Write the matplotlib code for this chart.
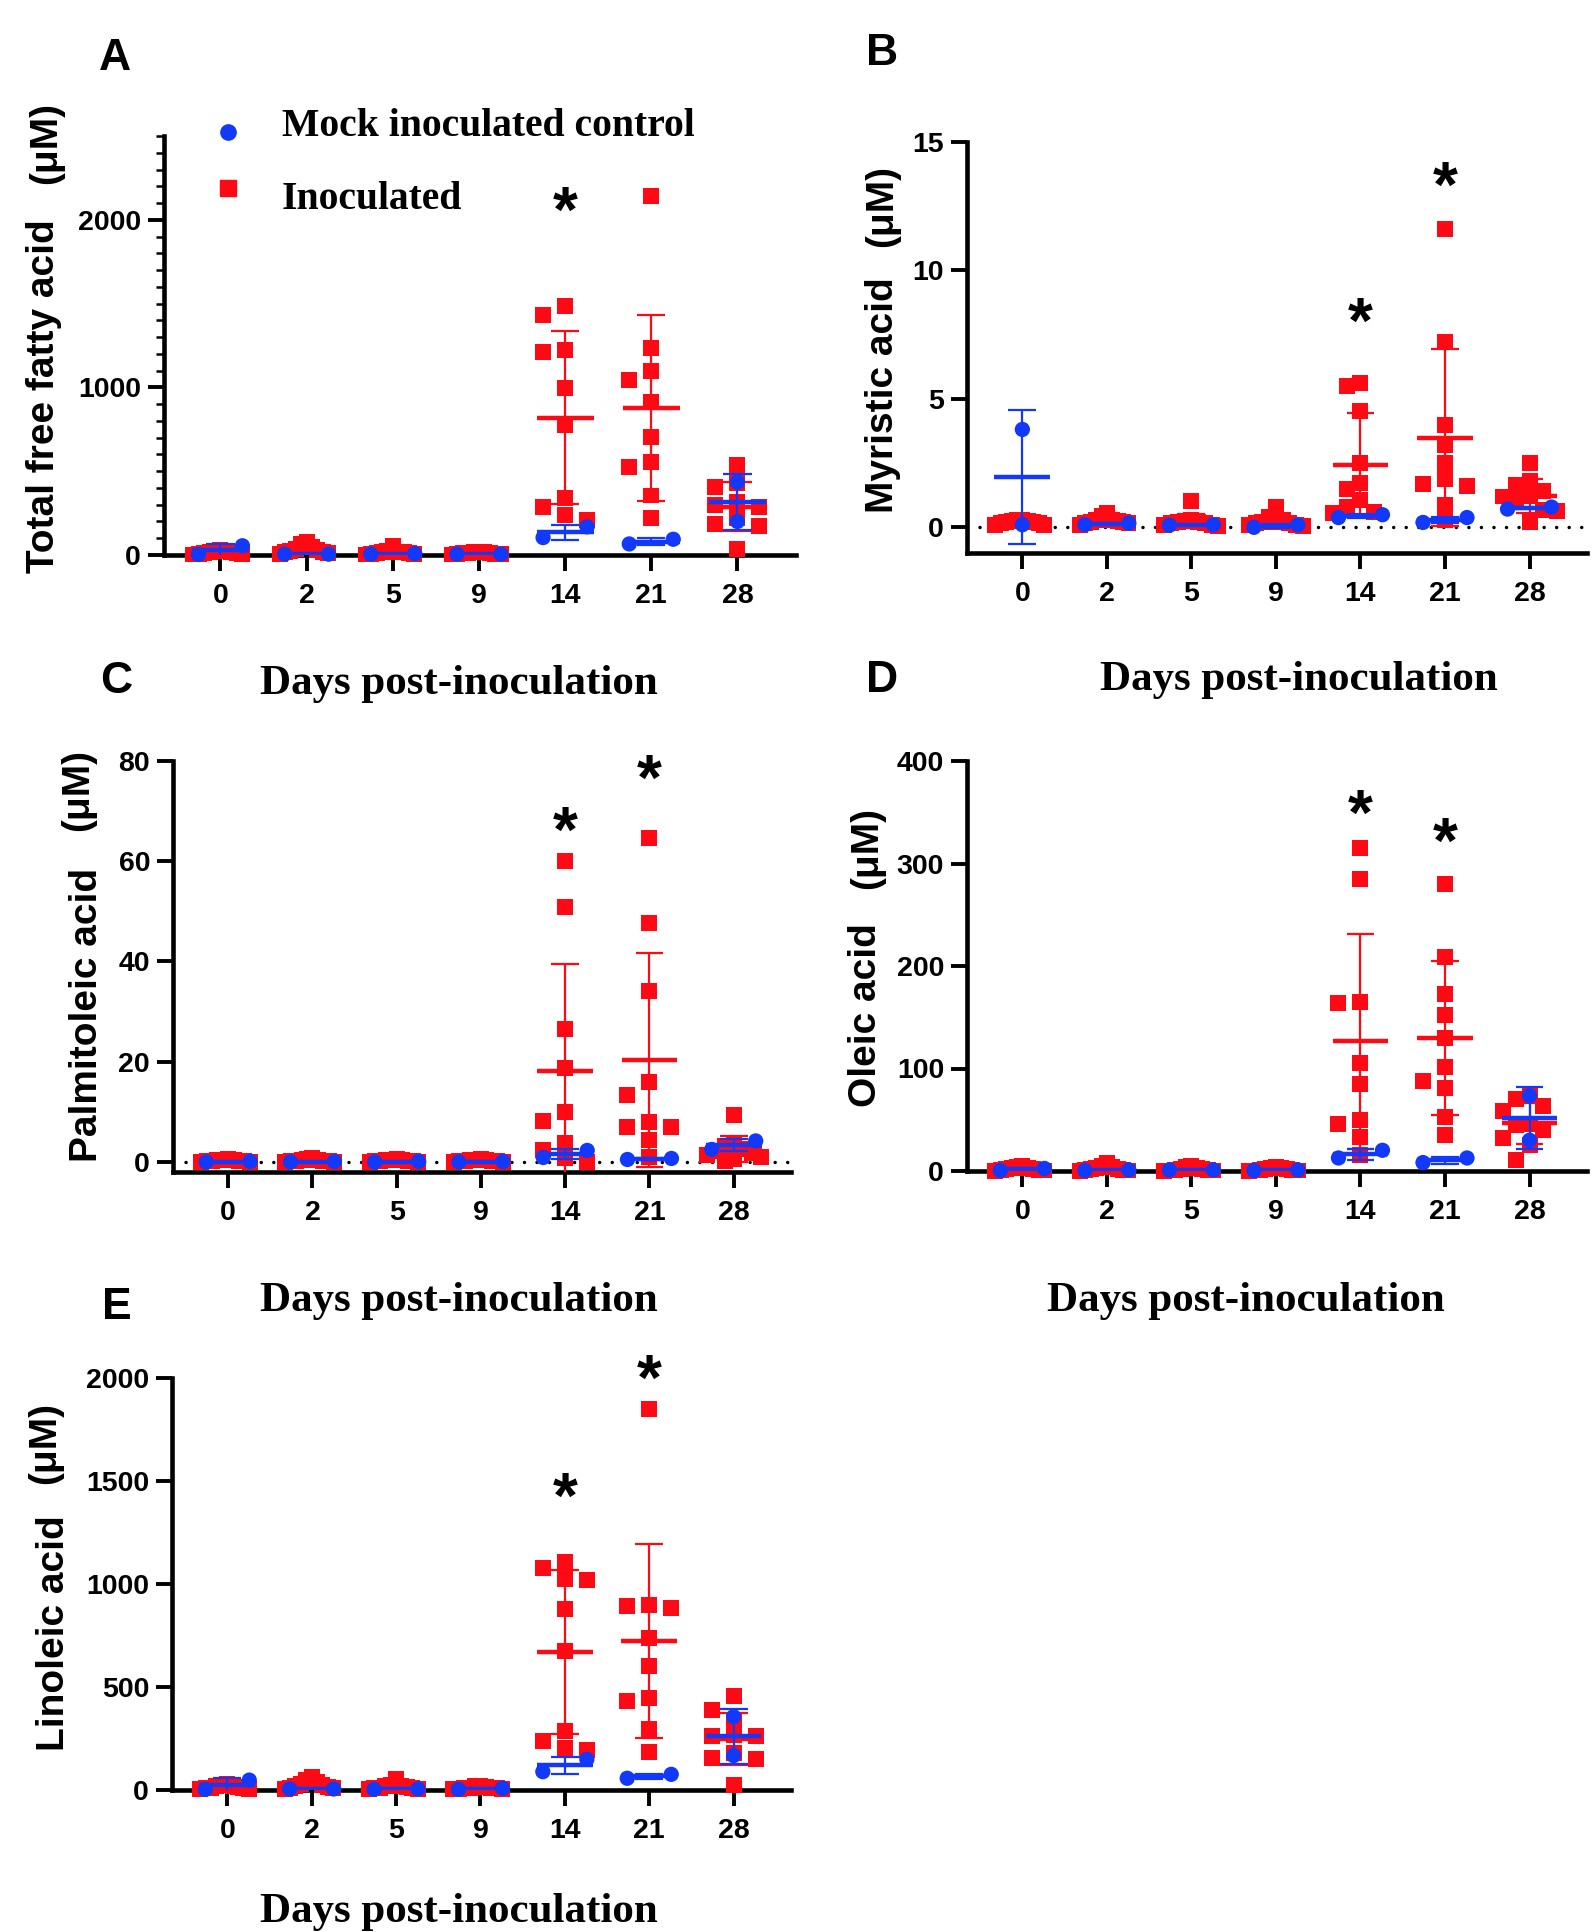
import numpy as np
import matplotlib
matplotlib.use("Agg")
import matplotlib.pyplot as plt
from matplotlib.lines import Line2D
from matplotlib.ticker import MultipleLocator

W, H, DPI = 1594, 1932, 100
RED = "#FF0A14"
BLUE = "#1238FA"
SANS = ["Liberation Sans", "DejaVu Sans"]
SERIF = ["Liberation Serif", "DejaVu Serif"]

plt.rcParams["font.family"] = SANS
plt.rcParams["font.weight"] = "bold"

DAYS = ["0", "2", "5", "9", "14", "21", "28"]

# values in uM; mock-inoculated n=2, inoculated n=10 per day
TFFA_MOCK = [[55, 3], [5, 5], [8, 5], [5, 5], [104, 168], [66, 94], [435, 200]]
TFFA_INOC = [
    [30, 22, 15, 10, 5, 25, 18, 8, 12, 3],
    [80, 68, 45, 35, 25, 15, 10, 30, 20, 5],
    [55, 25, 15, 10, 8, 5, 12, 18, 3, 20],
    [20, 15, 10, 8, 5, 12, 18, 3, 6, 10],
    [1483, 1433, 1222, 1210, 996, 778, 341, 287, 238, 210],
    [2142, 1234, 1098, 1044, 914, 703, 523, 555, 355, 220],
    [535, 403, 431, 319, 289, 299, 220, 186, 174, 36],
]
TFFA_STARS = {"14": 2114}

MYR_MOCK = [[3.81, 0.10], [0.16, 0.10], [0.10, 0.08], [0.0, 0.10], [0.49, 0.38], [0.19, 0.38], [0.71, 0.79]]
MYR_INOC = [
    [0.30, 0.25, 0.20, 0.20, 0.15, 0.10, 0.30, 0.25, 0.15, 0.10],
    [0.57, 0.45, 0.30, 0.25, 0.20, 0.15, 0.10, 0.30, 0.20, 0.15],
    [1.01, 0.30, 0.25, 0.20, 0.15, 0.10, 0.05, 0.20, 0.15, 0.10],
    [0.81, 0.40, 0.30, 0.20, 0.15, 0.10, 0.05, 0.20, 0.10, 0.15],
    [5.63, 5.50, 4.52, 2.51, 1.73, 1.49, 1.07, 0.81, 0.60, 0.55],
    [11.62, 7.22, 4.00, 3.22, 2.51, 1.70, 1.89, 1.59, 0.88, 0.29],
    [2.51, 1.79, 1.66, 1.20, 1.40, 1.20, 1.07, 0.68, 0.62, 0.19],
]
MYR_STARS = {"14": 8.38, "21": 13.7}

PALM_MOCK = [[0.1, 0.0], [0.1, 0.0], [0.1, 0.0], [0.1, 0.0], [0.9, 2.3], [0.5, 0.7], [4.2, 2.5]]
PALM_INOC = [
    [0.5, 0.4, 0.3, 0.3, 0.2, 0.2, 0.1, 0.1, 0.05, 0.0],
    [0.8, 0.5, 0.4, 0.3, 0.2, 0.2, 0.1, 0.1, 0.05, 0.0],
    [0.5, 0.4, 0.3, 0.3, 0.2, 0.2, 0.1, 0.1, 0.05, 0.0],
    [0.6, 0.4, 0.3, 0.3, 0.2, 0.2, 0.1, 0.1, 0.05, 0.0],
    [60.0, 50.9, 26.5, 18.8, 10.0, 8.1, 3.7, 2.3, 0.7, 0.0],
    [64.7, 47.6, 34.1, 16.0, 13.3, 7.0, 7.0, 7.9, 4.3, 1.0],
    [9.3, 3.8, 3.2, 2.6, 2.2, 1.8, 1.4, 1.0, 0.6, 0.2],
]
PALM_STARS = {"14": 68.2, "21": 78.4}

OLE_MOCK = [[2.5, 0.5], [1.0, 0.5], [1.0, 1.0], [1.0, 0.5], [12.7, 20.2], [8.2, 12.7], [73.3, 30.0]]
OLE_INOC = [
    [5, 4, 3, 3, 2, 2, 1, 1, 0.5, 0.2],
    [8, 5, 4, 3, 2, 2, 1, 1, 0.5, 0.2],
    [5, 4, 3, 2, 2, 1, 1, 0.5, 0.5, 0.2],
    [4, 3, 3, 2, 2, 1, 1, 0.5, 0.5, 0.2],
    [314.8, 285.2, 164.1, 165.0, 105.5, 84.7, 50.2, 46.3, 33.2, 15.3],
    [280, 209, 172.6, 152, 129.3, 101, 87.9, 81.4, 52.7, 35.5],
    [70, 73, 63, 59, 44.6, 46.3, 39.7, 32.6, 25, 10.4],
]
OLE_STARS = {"14": 358.8, "21": 331}

LIN_MOCK = [[48, 3], [5, 5], [5, 3], [8, 3], [89, 149], [57, 76], [356, 167]]
LIN_INOC = [
    [30, 25, 20, 15, 10, 5, 20, 12, 8, 3],
    [62, 48, 40, 30, 25, 15, 10, 20, 8, 5],
    [55, 25, 15, 10, 8, 5, 12, 18, 3, 20],
    [20, 15, 10, 8, 5, 12, 18, 3, 6, 10],
    [1109, 1077, 1020, 1024, 878, 677, 287, 240, 204, 194],
    [1850, 883, 896, 894, 740, 604, 446, 432, 296, 183],
    [455, 390, 340, 262, 265, 260, 150, 178, 155, 25],
]
LIN_STARS = {"14": 1474, "21": 2046}

fig = plt.figure(figsize=(W / DPI, H / DPI), dpi=DPI)


def fx(x):
    return x / W


def fy(y):
    return 1 - y / H


def px_axes(l, t, r, b):
    return fig.add_axes([fx(l), fy(b), (r - l) / W, (b - t) / H])


def swarm(ax, vals, step=22, hit=15, limit=27):
    # column-scatter offsets: spread points that would overlap vertically
    tr = ax.transData
    ys = tr.transform(np.column_stack([np.zeros(len(vals)), vals]))[:, 1]
    cat_px = tr.transform((1, 0))[0] - tr.transform((0, 0))[0]
    slots = np.zeros(len(vals))
    placed = []
    for i in np.argsort(-ys, kind="stable"):
        for s in (0, -1, 1, -2, 2, -3, 3, -4, 4, -5, 5, -6, 6):
            if all(ps != s or abs(py - ys[i]) >= hit for ps, py in placed):
                break
        slots[i] = s
        placed.append((s, ys[i]))
    if len(vals) == 2 and slots.min() < 0:
        slots = np.where(slots < 0, -1, 1)   # a touching pair sits either side
    off = slots * step
    m = np.abs(off).max()
    if m > limit:
        off = off * limit / m
    return off / cat_px


def group(ax, i, vals, color, marker, ms, z):
    vals = np.asarray(vals, float)
    dx = swarm(ax, vals)
    ax.scatter(i + dx, vals, s=ms ** 2, marker=marker, color=color, edgecolors="none",
               zorder=z, clip_on=False)
    m, sd = vals.mean(), vals.std(ddof=1)
    ax.hlines(m, i - 0.33, i + 0.33, color=color, lw=3.2, zorder=z + 0.5)
    ax.vlines(i, m - sd, m + sd, color=color, lw=1.6, zorder=z + 0.5)
    ax.hlines([m - sd, m + sd], i - 0.165, i + 0.165, color=color, lw=1.6, zorder=z + 0.5)


PANELS = [
    dict(letter="A", box=(164, 136, 796, 555), mock=TFFA_MOCK, inoc=TFFA_INOC, stars=TFFA_STARS,
         ylim=(0, 2500), yticks=[0, 1000, 2000], minor=100, zero=False,
         ylabel="Total free fatty acid", lab_xy=(54, 396), unit_xy=(56, 143),
         xlab_xy=(459, 694), let_xy=(115, 70)),
    dict(letter="B", box=(967, 142, 1587, 553), mock=MYR_MOCK, inoc=MYR_INOC, stars=MYR_STARS,
         ylim=(-1, 15), yticks=[0, 5, 10, 15], minor=None, zero=True,
         ylabel="Myristic acid", lab_xy=(893, 395), unit_xy=(892, 206),
         xlab_xy=(1299, 690), let_xy=(882, 65)),
    dict(letter="C", box=(173, 761, 791, 1172), mock=PALM_MOCK, inoc=PALM_INOC, stars=PALM_STARS,
         ylim=(-2, 80), yticks=[0, 20, 40, 60, 80], minor=None, zero=True,
         ylabel="Palmitoleic acid", lab_xy=(97, 1015), unit_xy=(88, 790),
         xlab_xy=(459, 1311), let_xy=(116, 693)),
    dict(letter="D", box=(967, 761, 1587, 1171), mock=OLE_MOCK, inoc=OLE_INOC, stars=OLE_STARS,
         ylim=(0, 400), yticks=[0, 100, 200, 300, 400], minor=None, zero=False,
         ylabel="Oleic acid", lab_xy=(876, 1015), unit_xy=(877, 848),
         xlab_xy=(1246, 1311), let_xy=(882, 692)),
    dict(letter="E", box=(172, 1378, 791, 1790), mock=LIN_MOCK, inoc=LIN_INOC, stars=LIN_STARS,
         ylim=(0, 2000), yticks=[0, 500, 1000, 1500, 2000], minor=None, zero=False,
         ylabel="Linoleic acid", lab_xy=(64, 1633), unit_xy=(55, 1443),
         xlab_xy=(459, 1922), let_xy=(117, 1319)),
]

STAR_FS = 46

for p in PANELS:
    ax = px_axes(*p["box"])
    ax.set_xlim(-0.655, 6.68)
    ax.set_ylim(*p["ylim"])
    ax.set_xticks(range(len(DAYS)), DAYS)
    ax.set_yticks(p["yticks"])
    if p["minor"]:
        ax.yaxis.set_minor_locator(MultipleLocator(p["minor"]))
        ax.tick_params(axis="y", which="minor", length=6, width=1.8)
    for side in ("top", "right"):
        ax.spines[side].set_visible(False)
    for side in ("left", "bottom"):
        ax.spines[side].set_linewidth(3.3)
        ax.spines[side].set_capstyle("projecting")
    ax.tick_params(axis="both", which="major", length=11.5, width=2.8, labelsize=20.5)
    ax.tick_params(axis="x", pad=8.5)
    ax.tick_params(axis="y", pad=5)
    if p["zero"]:
        ax.axhline(0, color="k", lw=2.5, ls=(0, (0.01, 3.6)), dash_capstyle="round", zorder=1)

    for i in range(len(DAYS)):
        group(ax, i, p["inoc"][i], RED, "s", 11.5, 3)
    for i in range(len(DAYS)):
        group(ax, i, p["mock"][i], BLUE, "o", 11, 4)

    for day, yv in p["stars"].items():
        ax.annotate("*", (DAYS.index(day), yv), xytext=(0, -0.575 * STAR_FS + 4),
                    textcoords="offset points", ha="center", va="baseline",
                    fontsize=STAR_FS, annotation_clip=False)

    lx, ly = p["lab_xy"]
    fig.text(fx(lx), fy(ly), p["ylabel"], rotation=90, rotation_mode="anchor",
             ha="center", va="baseline", fontsize=28)
    ux, uy = p["unit_xy"]
    fig.text(fx(ux), fy(uy), "(μM)", rotation=90, rotation_mode="anchor",
             ha="center", va="baseline", fontsize=28)
    xx, xy = p["xlab_xy"]
    fig.text(fx(xx), fy(xy), "Days post-inoculation", family=SERIF, ha="center",
             va="baseline", fontsize=31)
    tx, ty = p["let_xy"]
    fig.text(fx(tx), fy(ty), p["letter"], ha="center", va="baseline", fontsize=32)

# legend of panel A
fig.add_artist(Line2D([fx(228)], [fy(132)], marker="o", ms=11, color=BLUE, ls="",
                      transform=fig.transFigure))
fig.add_artist(Line2D([fx(228)], [fy(188)], marker="s", ms=11, color=RED, ls="",
                      transform=fig.transFigure))
fig.text(fx(282), fy(136), "Mock inoculated control", family=SERIF, fontsize=28.5,
         ha="left", va="baseline")
fig.text(fx(282), fy(209), "Inoculated", family=SERIF, fontsize=28.5, ha="left", va="baseline")

fig.savefig("out.png", dpi=DPI)
